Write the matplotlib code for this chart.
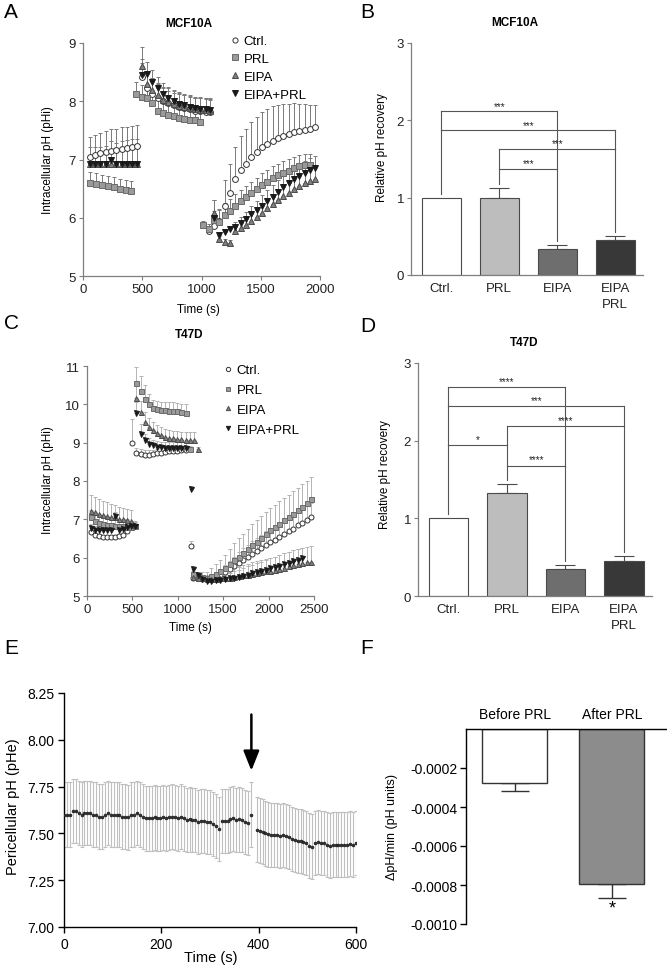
import numpy as np
import matplotlib
matplotlib.use("Agg")
import matplotlib.pyplot as plt
from matplotlib.lines import Line2D

plt.rcParams['font.family'] = ['Liberation Sans', 'DejaVu Sans']
plt.rcParams['axes.linewidth'] = 0.8

# ------------------------------------------------------------------
# DATA
# ------------------------------------------------------------------
# Panel A (MCF10A) time courses
A_ctrl_t = [55, 100, 145, 190, 235, 280, 325, 370, 415, 455,
            495, 540, 585, 630, 675, 720, 765, 810, 855, 900, 945, 990, 1035, 1075,
            1060, 1105, 1150, 1195, 1240, 1285, 1330, 1375, 1420, 1465, 1510,
            1555, 1600, 1645, 1690, 1735, 1780, 1825, 1870, 1915, 1960]
A_ctrl_y = [7.05, 7.08, 7.11, 7.13, 7.15, 7.16, 7.18, 7.19, 7.21, 7.23,
            8.42, 8.22, 8.12, 8.05, 8.00, 7.97, 7.93, 7.90, 7.88, 7.86, 7.84, 7.83, 7.82, 7.81,
            5.78, 5.85, 5.95, 6.20, 6.42, 6.66, 6.82, 6.93, 7.04, 7.13, 7.21,
            7.27, 7.32, 7.37, 7.41, 7.44, 7.47, 7.49, 7.51, 7.53, 7.55]
A_ctrl_e = [0.33, 0.34, 0.35, 0.36, 0.37, 0.37, 0.37, 0.37, 0.37, 0.36,
            0.30, 0.30, 0.28, 0.26, 0.25, 0.25, 0.24, 0.24, 0.23, 0.23, 0.22, 0.22, 0.22, 0.22,
            0.08, 0.12, 0.20, 0.44, 0.50, 0.55, 0.58, 0.59, 0.60, 0.60, 0.60,
            0.60, 0.59, 0.57, 0.55, 0.52, 0.50, 0.47, 0.44, 0.41, 0.38]

A_prl_t = [60, 110, 160, 210, 260, 310, 360, 405,
           450, 495, 540, 585, 630, 675, 720, 765, 810, 855, 900, 945, 990,
           1015, 1060, 1105, 1150, 1195, 1240, 1285, 1330, 1375, 1420, 1465,
           1510, 1555, 1600, 1645, 1690, 1735, 1780, 1825, 1870, 1915]
A_prl_y = [6.60, 6.58, 6.56, 6.54, 6.52, 6.50, 6.48, 6.46,
           8.13, 8.08, 8.05, 7.97, 7.84, 7.80, 7.77, 7.74, 7.72, 7.70, 7.68, 7.67, 7.65,
           5.88, 5.81, 5.96, 5.93, 6.05, 6.12, 6.20, 6.28, 6.35, 6.42, 6.49,
           6.56, 6.62, 6.68, 6.73, 6.77, 6.81, 6.85, 6.88, 6.90, 6.91]
A_prl_e = [0.19, 0.19, 0.18, 0.18, 0.18, 0.17, 0.17, 0.17,
           0.20, 0.20, 0.20, 0.19, 0.19, 0.19, 0.18, 0.18, 0.18, 0.18, 0.18, 0.18, 0.18,
           0.06, 0.08, 0.16, 0.20, 0.20, 0.20, 0.20, 0.20, 0.20, 0.20, 0.20,
           0.20, 0.20, 0.20, 0.20, 0.20, 0.20, 0.20, 0.20, 0.20, 0.18]

A_eipa_t = [55, 100, 145, 190, 235, 280, 325, 370, 415, 455,
            495, 540, 585, 630, 675, 720, 765, 810, 855, 900, 945, 990, 1035, 1075,
            1105, 1150, 1195, 1240, 1285, 1330, 1375, 1420, 1465, 1510,
            1555, 1600, 1645, 1690, 1735, 1780, 1825, 1870, 1915, 1960]
A_eipa_y = [6.92, 6.92, 6.92, 6.92, 6.93, 6.93, 6.92, 6.92, 6.92, 6.92,
            8.60, 8.30, 8.20, 8.10, 8.03, 7.98, 7.95, 7.92, 7.90, 7.88, 7.86, 7.85, 7.85, 7.84,
            6.08, 5.64, 5.59, 5.57, 5.78, 5.83, 5.88, 5.95, 6.02, 6.09,
            6.16, 6.23, 6.30, 6.37, 6.43, 6.49, 6.54, 6.59, 6.63, 6.67]
A_eipa_e = [0.05, 0.05, 0.05, 0.05, 0.05, 0.05, 0.05, 0.05, 0.05, 0.05,
            0.33, 0.22, 0.20, 0.20, 0.20, 0.20, 0.20, 0.20, 0.20, 0.20, 0.20, 0.20, 0.20, 0.20,
            0.22, 0.05, 0.05, 0.05, 0.10, 0.12, 0.13, 0.14, 0.15, 0.16,
            0.17, 0.18, 0.19, 0.20, 0.20, 0.20, 0.20, 0.20, 0.20, 0.20]

A_eipaprl_t = A_eipa_t
A_eipaprl_y = [6.92, 6.92, 6.92, 6.93, 7.00, 6.93, 6.92, 6.92, 6.92, 6.92,
               8.45, 8.47, 8.33, 8.22, 8.12, 8.05, 8.00, 7.96, 7.93, 7.90, 7.88, 7.87, 7.86, 7.85,
               6.00, 5.70, 5.75, 5.80, 5.84, 5.91, 5.98, 6.06, 6.13, 6.21,
               6.29, 6.36, 6.44, 6.52, 6.59, 6.66, 6.72, 6.77, 6.82, 6.86]
A_eipaprl_e = [0.29, 0.29, 0.30, 0.30, 0.32, 0.36, 0.40, 0.42, 0.43, 0.43,
               0.20, 0.20, 0.20, 0.20, 0.20, 0.20, 0.20, 0.20, 0.20, 0.20, 0.20, 0.20, 0.20, 0.20,
               0.30, 0.06, 0.06, 0.06, 0.08, 0.10, 0.12, 0.14, 0.16, 0.18,
               0.19, 0.20, 0.20, 0.20, 0.20, 0.20, 0.20, 0.20, 0.20, 0.20]

# Panel C (T47D) time courses
C_ctrl_t = [40, 85, 130, 175, 220, 265, 310, 355, 400, 445,
            500, 545, 590, 635, 680, 725, 770, 815, 860, 905, 950, 995, 1040, 1085,
            1140,
            1170, 1220, 1270, 1320, 1370, 1420, 1470, 1520, 1570, 1620, 1670, 1720, 1770,
            1820, 1870, 1920, 1970, 2020, 2070, 2120, 2170, 2220, 2270, 2320, 2370, 2420, 2470]
C_ctrl_y = [6.66, 6.60, 6.57, 6.55, 6.55, 6.55, 6.55, 6.56, 6.60, 6.70,
            8.98, 8.72, 8.70, 8.69, 8.69, 8.70, 8.72, 8.74, 8.76, 8.77, 8.78, 8.79, 8.80, 8.80,
            6.31,
            5.48, 5.46, 5.45, 5.46, 5.48, 5.50, 5.55, 5.62, 5.70, 5.78, 5.86, 5.94, 6.01,
            6.09, 6.17, 6.24, 6.32, 6.40, 6.47, 6.55, 6.62, 6.69, 6.76, 6.84, 6.91, 6.98, 7.05]
C_ctrl_e = [0.05, 0.05, 0.05, 0.05, 0.05, 0.05, 0.05, 0.05, 0.05, 0.05,
            0.63, 0.14, 0.13, 0.12, 0.12, 0.12, 0.12, 0.12, 0.12, 0.12, 0.12, 0.12, 0.12, 0.12,
            0.12,
            0.05, 0.05, 0.05, 0.06, 0.08, 0.10, 0.14, 0.18, 0.22, 0.25, 0.28, 0.30, 0.32,
            0.34, 0.35, 0.36, 0.37, 0.38, 0.38, 0.38, 0.38, 0.38, 0.38, 0.38, 0.38, 0.38, 0.38]

C_prl_t = [40, 85, 130, 175, 220, 265, 310, 355, 400, 445, 490, 530,
           545, 590, 635, 680, 725, 770, 815, 860, 905, 950, 995, 1040, 1085,
           1130,
           1170, 1220, 1270, 1320, 1370, 1420, 1470, 1520, 1570, 1620, 1670, 1720, 1770,
           1820, 1870, 1920, 1970, 2020, 2070, 2120, 2170, 2220, 2270, 2320, 2370, 2420, 2470]
C_prl_y = [7.05, 6.95, 6.90, 6.88, 6.86, 6.84, 6.83, 6.82, 6.82, 6.81, 6.81, 6.82,
           10.55, 10.34, 10.14, 10.01, 9.90, 9.88, 9.84, 9.84, 9.83, 9.83, 9.82, 9.80, 9.78,
           8.83,
           5.58, 5.52, 5.50, 5.48, 5.52, 5.58, 5.64, 5.73, 5.83, 5.93, 6.03, 6.13, 6.23,
           6.33, 6.42, 6.52, 6.62, 6.72, 6.80, 6.89, 6.98, 7.06, 7.15, 7.24, 7.33, 7.43, 7.53]
C_prl_e = [0.20, 0.20, 0.20, 0.20, 0.20, 0.20, 0.20, 0.20, 0.20, 0.20, 0.15, 0.10,
           0.42, 0.41, 0.36, 0.25, 0.22, 0.22, 0.22, 0.22, 0.22, 0.22, 0.22, 0.22, 0.22,
           0.08,
           0.08, 0.10, 0.12, 0.15, 0.20, 0.25, 0.30, 0.35, 0.40, 0.45, 0.48, 0.50, 0.52,
           0.54, 0.55, 0.56, 0.57, 0.58, 0.58, 0.58, 0.58, 0.58, 0.58, 0.58, 0.58, 0.58, 0.58]

C_eipa_t = [40, 85, 130, 175, 220, 265, 310, 355, 400, 445, 490, 530,
            545, 590, 635, 680, 725, 770, 815, 860, 905, 950, 995, 1040, 1085, 1130, 1175,
            1220,
            1170, 1220, 1270, 1320, 1370, 1420, 1470, 1520, 1570, 1620, 1670, 1720, 1770,
            1820, 1870, 1920, 1970, 2020, 2070, 2120, 2170, 2220, 2270, 2320, 2370, 2420, 2470]
C_eipa_y = [7.21, 7.18, 7.15, 7.12, 7.10, 7.07, 7.05, 7.02, 7.00, 6.97, 6.95, 6.85,
            10.16, 9.79, 9.55, 9.42, 9.33, 9.26, 9.20, 9.16, 9.13, 9.11, 9.10, 9.09, 9.08, 9.08, 9.07,
            8.83,
            5.50, 5.48, 5.46, 5.45, 5.44, 5.45, 5.46, 5.47, 5.48, 5.50, 5.52, 5.54, 5.56,
            5.58, 5.60, 5.62, 5.64, 5.66, 5.68, 5.71, 5.74, 5.77, 5.80, 5.83, 5.86, 5.88, 5.90]
C_eipa_e = [0.42, 0.40, 0.38, 0.36, 0.34, 0.33, 0.32, 0.31, 0.30, 0.30, 0.30, 0.10,
            0.35, 0.30, 0.25, 0.22, 0.20, 0.20, 0.20, 0.20, 0.20, 0.20, 0.20, 0.20, 0.20, 0.20, 0.20,
            0.05,
            0.05, 0.05, 0.06, 0.08, 0.10, 0.12, 0.15, 0.18, 0.20, 0.22, 0.24, 0.26, 0.28,
            0.30, 0.31, 0.32, 0.33, 0.34, 0.35, 0.36, 0.37, 0.38, 0.39, 0.40, 0.40, 0.40, 0.40]

C_eipaprl_t = [40, 85, 130, 175, 220, 265, 310, 355, 400, 445, 490, 530,
               545, 590, 635, 680, 725, 770, 815, 860, 905, 950, 995, 1040, 1085,
               1145,
               1170, 1220, 1270, 1320, 1370, 1420, 1470, 1520, 1570, 1620, 1670, 1720, 1770,
               1820, 1870, 1920, 1970, 2020, 2070, 2120, 2170, 2220, 2270, 2320, 2370]
C_eipaprl_y = [6.78, 6.72, 6.71, 6.71, 6.71, 6.72, 7.10, 6.73, 6.76, 6.80, 6.82, 6.83,
               9.77, 9.23, 9.08, 8.96, 8.93, 8.90, 8.88, 8.87, 8.86, 8.86, 8.86, 8.86, 8.86,
               7.80,
               5.70, 5.55, 5.45, 5.40, 5.40, 5.41, 5.42, 5.44, 5.46, 5.48, 5.50, 5.53, 5.56,
               5.59, 5.62, 5.65, 5.68, 5.72, 5.75, 5.79, 5.83, 5.87, 5.91, 5.95, 5.98]
C_eipaprl_e = [0.10, 0.10, 0.10, 0.10, 0.10, 0.10, 0.10, 0.10, 0.10, 0.10, 0.10, 0.10,
               0.30, 0.25, 0.15, 0.15, 0.15, 0.15, 0.15, 0.15, 0.15, 0.15, 0.15, 0.15, 0.15,
               0.08,
               0.08, 0.06, 0.05, 0.05, 0.06, 0.08, 0.10, 0.12, 0.14, 0.16, 0.18, 0.20, 0.21,
               0.22, 0.23, 0.24, 0.25, 0.26, 0.27, 0.28, 0.28, 0.28, 0.28, 0.28, 0.28]

# Panels B & D : relative pH recovery
bar_cats = ["Ctrl.", "PRL", "EIPA", "EIPA\nPRL"]
B_vals = [1.00, 1.00, 0.33, 0.45]
B_errs = [0.00, 0.13, 0.06, 0.06]
D_vals = [1.00, 1.33, 0.35, 0.45]
D_errs = [0.00, 0.11, 0.05, 0.07]
# brackets: (i, j, level, label)
B_sig = [(0, 2, 2.12, "***"), (0, 3, 1.87, "***"), (1, 3, 1.635, "***"), (1, 2, 1.377, "***")]
D_sig = [(0, 2, 2.69, "****"), (0, 3, 2.44, "***"), (1, 3, 2.19, "****"),
         (0, 1, 1.94, "*"), (1, 2, 1.68, "****")]

# Panel E : pericellular pH
E_t = [0, 6, 12, 18, 24, 30, 36, 42, 48, 54, 60, 66, 72, 78, 84, 90, 96, 102, 108, 114,
       120, 126, 132, 138, 144, 150, 156, 162, 168, 174, 180, 186, 192, 198, 204, 210,
       216, 222, 228, 234, 240, 246, 252, 258, 264, 270, 276, 282, 288, 294, 300, 306,
       312, 318, 324, 330, 336, 342, 348, 354, 360, 366, 372, 378, 384,
       396, 402, 408, 414, 420, 426, 432, 438, 444, 450, 456, 462, 468, 474, 480, 486,
       492, 498, 504, 510, 516, 522, 528, 534, 540, 546, 552, 558, 564, 570, 576, 582,
       588, 594, 600]
E_y = [7.60, 7.60, 7.60, 7.62, 7.62, 7.61, 7.60, 7.61, 7.61, 7.61,
       7.60, 7.60, 7.59, 7.59, 7.60, 7.61, 7.60, 7.60, 7.60, 7.60,
       7.59, 7.59, 7.585, 7.60, 7.60, 7.61, 7.60, 7.59, 7.58, 7.58,
       7.58, 7.585, 7.58, 7.58, 7.585, 7.58, 7.585, 7.59, 7.585, 7.58,
       7.59, 7.58, 7.57, 7.575, 7.57, 7.57, 7.56, 7.565, 7.565, 7.56,
       7.56, 7.55, 7.54, 7.525, 7.565, 7.565, 7.565, 7.575, 7.58, 7.57,
       7.575, 7.57, 7.56, 7.555, 7.60,
       7.52, 7.515, 7.51, 7.50, 7.495, 7.49, 7.49, 7.49, 7.485, 7.49,
       7.485, 7.48, 7.47, 7.465, 7.46, 7.46, 7.455, 7.45, 7.435, 7.43,
       7.45, 7.455, 7.45, 7.45, 7.44, 7.435, 7.44, 7.44, 7.44, 7.44,
       7.44, 7.44, 7.445, 7.44, 7.45]
E_sd = 0.172
E_arrow_t = 385

# Panel F : rate of pHe change
F_cats = ["Before PRL", "After PRL"]
F_vals = [-0.000277, -0.000797]
F_errs = [0.000040, 0.000068]

# ------------------------------------------------------------------
# FIGURE
# ------------------------------------------------------------------
W, H = 667, 970
fig = plt.figure(figsize=(W / 100, H / 100), dpi=100)


def add_ax(l, t, r, b):
    return fig.add_axes([l / W, 1 - b / H, (r - l) / W, (b - t) / H])


def ftext(x, y, s, **kw):
    fig.text(x / W, 1 - y / H, s, **kw)


GRAY = '#7f7f7f'
STY = {
    'Ctrl.': dict(marker='o', mfc='white', mec='#333333'),
    'PRL': dict(marker='s', mfc='#9a9a9a', mec='#6a6a6a'),
    'EIPA': dict(marker='^', mfc='#808080', mec='#4a4a4a'),
    'EIPA+PRL': dict(marker='v', mfc='#1a1a1a', mec='#1a1a1a'),
}


def style_gray(ax):
    for s in ['top', 'right']:
        ax.spines[s].set_visible(False)
    for s in ['left', 'bottom']:
        ax.spines[s].set_color(GRAY)
        ax.spines[s].set_linewidth(0.9)
    ax.tick_params(color=GRAY, length=3, width=0.8, labelsize=9.5,
                   labelcolor='#222222', pad=2)


def ts_panel(ax, series, ecol, ms):
    for lab, t, y, e in series:
        ax.errorbar(t, y, yerr=[np.zeros(len(e)), e], fmt='none', ecolor=ecol,
                    elinewidth=0.7, capsize=1.6, capthick=0.7, zorder=2)
    for lab, t, y, e in series:
        st = STY[lab]
        ax.plot(t, y, ls='none', marker=st['marker'], mfc=st['mfc'], mec=st['mec'],
                mew=0.7, ms=ms, zorder=3)
    handles = [Line2D([], [], ls='none', marker=STY[l]['marker'], mfc=STY[l]['mfc'],
                      mec=STY[l]['mec'], mew=0.7, ms=ms - 0.5) for l, *_ in series]
    return handles


# ---------------- Panel A ----------------
axA = add_ax(83, 44, 320, 277)
style_gray(axA)
hA = ts_panel(axA, [('Ctrl.', A_ctrl_t, A_ctrl_y, A_ctrl_e),
                    ('PRL', A_prl_t, A_prl_y, A_prl_e),
                    ('EIPA', A_eipa_t, A_eipa_y, A_eipa_e),
                    ('EIPA+PRL', A_eipaprl_t, A_eipaprl_y, A_eipaprl_e)],
              '#7a7a7a', 4.2)
axA.set_xlim(0, 2000)
axA.set_ylim(5, 9)
axA.set_xticks([0, 500, 1000, 1500, 2000])
axA.set_yticks([5, 6, 7, 8, 9])
axA.legend(hA, ['Ctrl.', 'PRL', 'EIPA', 'EIPA+PRL'], loc='upper left',
           bbox_to_anchor=(231 / W, 1 - 36 / H), bbox_transform=fig.transFigure,
           frameon=False, fontsize=9.5, handlelength=0.6, handletextpad=0.35,
           labelspacing=0.42, borderpad=0, borderaxespad=0)
ftext(189, 24, 'MCF10A', ha='center', va='center', fontsize=8.5, fontweight='bold')
ftext(48, 160, 'Intracellular pH (pHi)', ha='center', va='center', rotation=90, fontsize=8.5)
ftext(198, 310, 'Time (s)', ha='center', va='center', fontsize=8.5)

# ---------------- Panel C ----------------
axC = add_ax(87, 367, 314, 597)
style_gray(axC)
hC = ts_panel(axC, [('Ctrl.', C_ctrl_t, C_ctrl_y, C_ctrl_e),
                    ('PRL', C_prl_t, C_prl_y, C_prl_e),
                    ('EIPA', C_eipa_t, C_eipa_y, C_eipa_e),
                    ('EIPA+PRL', C_eipaprl_t, C_eipaprl_y, C_eipaprl_e)],
              '#b4b4b4', 3.6)
axC.set_xlim(0, 2500)
axC.set_ylim(5, 11)
axC.set_xticks([0, 500, 1000, 1500, 2000, 2500])
axC.set_yticks([5, 6, 7, 8, 9, 10, 11])
axC.legend(hC, ['Ctrl.', 'PRL', 'EIPA', 'EIPA+PRL'], loc='upper left',
           bbox_to_anchor=(224 / W, 1 - 365 / H), bbox_transform=fig.transFigure,
           frameon=False, fontsize=9.5, handlelength=0.6, handletextpad=0.35,
           labelspacing=0.58, borderpad=0, borderaxespad=0)
ftext(189, 335, 'T47D', ha='center', va='center', fontsize=8.5, fontweight='bold')
ftext(48, 480, 'Intracellular pH (pHi)', ha='center', va='center', rotation=90, fontsize=8.5)
ftext(190, 628, 'Time (s)', ha='center', va='center', fontsize=8.5)


# ---------------- Panels B & D ----------------
def bar_panel(ax, vals, errs, sig, star_dy):
    style_gray(ax)
    x = np.arange(len(vals))
    cols = ['white', '#bdbdbd', '#6e6e6e', '#383838']
    ax.bar(x, vals, width=0.67, color=cols, edgecolor='#4a4a4a', linewidth=0.8, zorder=2)
    for xi, v, e in zip(x, vals, errs):
        if e > 0:
            ax.errorbar([xi], [v], yerr=[[0], [e]], fmt='none', ecolor='#4a4a4a',
                        elinewidth=0.8, capsize=7.5, capthick=0.8, zorder=1)
    tops = [v + e + 0.05 for v, e in zip(vals, errs)]
    for k in range(len(vals)):
        levels = [lv for (i, j, lv, _) in sig if k in (i, j)]
        if not levels:
            continue
        lv_sorted = sorted(levels, reverse=True)
        ax.plot([k, k], [lv_sorted[-1], tops[k]], color='#555555', lw=0.8, zorder=3)
        for a, b in zip(lv_sorted[:-1], lv_sorted[1:]):
            ax.plot([k, k], [a, b], color='#555555', lw=0.8, zorder=3)
    for (i, j, lv, lab) in sig:
        ax.plot([i, j], [lv, lv], color='#555555', lw=0.8, zorder=3)
        ax.text((i + j) / 2, lv + star_dy, lab, ha='center', va='center', fontsize=7,
                color='#222222')
    ax.set_xlim(-0.52, 3.48)
    ax.set_ylim(0, 3)
    ax.set_yticks([0, 1, 2, 3])
    ax.set_xticks(x)
    ax.set_xticklabels(bar_cats, linespacing=1.5)
    ax.tick_params(axis='x', length=0, pad=5)


axB = add_ax(411, 44, 643, 276)
bar_panel(axB, B_vals, B_errs, B_sig, 0.07)
ftext(515, 23, 'MCF10A', ha='center', va='center', fontsize=8.5, fontweight='bold')
ftext(382, 148, 'Relative pH recovery', ha='center', va='center', rotation=90, fontsize=8.5)

axD = add_ax(418, 364, 652, 597)
bar_panel(axD, D_vals, D_errs, D_sig, 0.08)
ftext(524, 343, 'T47D', ha='center', va='center', fontsize=8.5, fontweight='bold')
ftext(385, 475, 'Relative pH recovery', ha='center', va='center', rotation=90, fontsize=8.5)

# ---------------- Panel E ----------------
axE = add_ax(64, 694, 356, 928)
for s in ['top', 'right']:
    axE.spines[s].set_visible(False)
for s in ['left', 'bottom']:
    axE.spines[s].set_linewidth(1.0)
axE.tick_params(length=4, width=1.0, labelsize=10, pad=3)
axE.errorbar(E_t, E_y, yerr=E_sd, fmt='none', ecolor='#c0c0c0', elinewidth=0.8,
             capsize=1.5, capthick=0.8, zorder=2)
axE.plot(E_t, E_y, ls='none', marker='o', ms=2.1, mfc='#333333', mec='#111111',
         mew=0.4, zorder=3)
axE.annotate('', xy=(E_arrow_t, 7.835), xytext=(E_arrow_t, 8.135),
             arrowprops=dict(arrowstyle='-|>,head_length=0.6,head_width=0.24',
                             lw=1.8, color='black', mutation_scale=20,
                             shrinkA=0, shrinkB=0))
axE.set_xlim(0, 600)
axE.set_ylim(7.0, 8.25)
axE.set_xticks([0, 200, 400, 600])
yt = [7.00, 7.25, 7.50, 7.75, 8.00, 8.25]
axE.set_yticks(yt, labels=[f'{v:.2f}' for v in yt])
ftext(13, 807, 'Pericellular pH (pHe)', ha='center', va='center', rotation=90, fontsize=10.5)
ftext(211, 958, 'Time (s)', ha='center', va='center', fontsize=10.5)

# ---------------- Panel F ----------------
axF = add_ax(466, 730, 667, 925)
axF.spines['bottom'].set_visible(False)
axF.spines['right'].set_visible(False)
axF.spines['left'].set_linewidth(1.0)
axF.spines['top'].set_linewidth(1.0)
xF = np.arange(len(F_vals))
axF.bar(xF, F_vals, width=0.67, color=['white', '#8c8c8c'], edgecolor='#333333',
        linewidth=1.0, zorder=2)
axF.errorbar(xF, F_vals, yerr=[F_errs, [0, 0]], fmt='none', ecolor='#333333',
             elinewidth=1.0, capsize=10, capthick=1.0, zorder=1)
axF.text(1, F_vals[1] - F_errs[1] - 0.000055, '*', ha='center', va='center', fontsize=13)
axF.set_xlim(-0.505, 1.567)
axF.set_ylim(-0.0010, 0)
fy = [-0.0002, -0.0004, -0.0006, -0.0008, -0.0010]
axF.set_yticks(fy, labels=[f'{v:.4f}' for v in fy])
axF.xaxis.tick_top()
axF.set_xticks(xF)
axF.set_xticklabels(F_cats)
axF.tick_params(axis='x', length=0, pad=6, labelsize=10)
axF.tick_params(axis='y', length=4, width=1.0, labelsize=10, pad=2)
ftext(392, 827, 'ΔpH/min (pH units)', ha='center', va='center', rotation=90, fontsize=9)

# ---------------- panel letters ----------------
for lab, x, y in [('A', 4, 13), ('B', 360, 12), ('C', 4, 324), ('D', 360, 326),
                  ('E', 4, 649), ('F', 360, 649)]:
    ftext(x, y, lab, ha='left', va='center', fontsize=15)

fig.savefig('out.png', dpi=100)
